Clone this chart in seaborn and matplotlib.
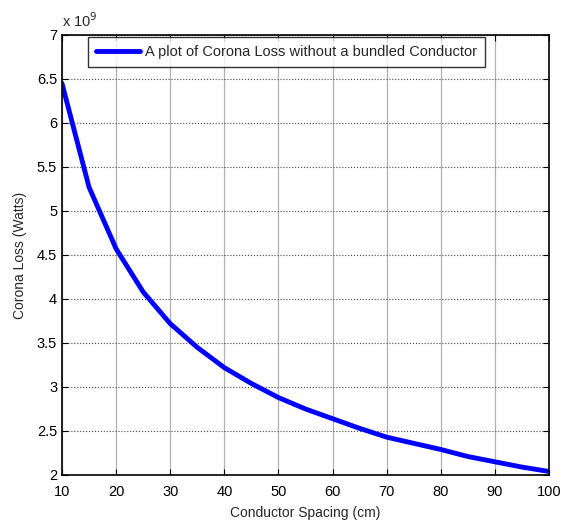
import matplotlib
matplotlib.use("Agg")
import matplotlib.pyplot as plt
import pandas as pd
import seaborn as sns

# Corona loss vs conductor spacing (in Watts)
spacing_cm = [10, 15, 20, 25, 30, 35, 40, 45, 50, 55, 60, 65, 70, 75, 80, 85, 90, 95, 100]
corona_loss = [6.45e9, 5.27e9, 4.57e9, 4.08e9, 3.72e9, 3.45e9, 3.22e9, 3.04e9, 2.88e9,
               2.75e9, 2.64e9, 2.53e9, 2.43e9, 2.36e9, 2.29e9, 2.21e9, 2.15e9, 2.09e9, 2.04e9]
series_label = "A plot of Corona Loss without a bundled Conductor"
x_ticks = [10, 20, 30, 40, 50, 60, 70, 80, 90, 100]
y_ticks = [2, 2.5, 3, 3.5, 4, 4.5, 5, 5.5, 6, 6.5, 7]

df = pd.DataFrame({"spacing": spacing_cm, "loss": [v / 1e9 for v in corona_loss]})

sns.set_theme(style="white")
plt.rcParams["font.family"] = ["Liberation Sans", "DejaVu Sans"]

fig = plt.figure(figsize=(5.68, 5.22), dpi=100)
ax = fig.add_axes([62 / 568, 47 / 522, 487 / 568, 440 / 522])

sns.lineplot(data=df, x="spacing", y="loss", ax=ax, color="#0000ff",
             linewidth=3.5, label=series_label)

ax.set_xlim(10, 100)
ax.set_ylim(2, 7)
ax.set_xticks(x_ticks)
ax.set_yticks(y_ticks)
ax.set_yticklabels([f"{t:g}" for t in y_ticks])
ax.set_xticklabels([str(t) for t in x_ticks])

# MATLAB-like grid: vertical gray, horizontal dotted
ax.xaxis.grid(True, color="#b0b0b0", linestyle="-", linewidth=0.9)
ax.yaxis.grid(True, color="#444444", linestyle=":", linewidth=0.8)
ax.set_axisbelow(True)

for s in ax.spines.values():
    s.set_color("black")
    s.set_linewidth(1.2)
ax.tick_params(direction="in", length=4, width=0.8, colors="black",
               labelsize=10.5, top=True, right=True, bottom=True, left=True,
               labeltop=False, labelright=False)
ax.tick_params(axis="x", pad=7)

ax.set_xlabel("Conductor Spacing (cm)", fontsize=10, labelpad=5)
ax.set_ylabel("Corona Loss (Watts)", fontsize=10, labelpad=7)
ax.text(0.0, 1.012, r"x 10$^{9}$", transform=ax.transAxes, fontsize=10.5,
        ha="left", va="bottom")

leg = ax.legend(loc="upper left", bbox_to_anchor=(0.053, 0.996), frameon=True,
                fancybox=False, fontsize=10.5, handlelength=3.0, borderpad=0.55,
                handletextpad=0.35, borderaxespad=0)
leg.get_frame().set_edgecolor("black")
leg.get_frame().set_linewidth(1.0)
for line in leg.get_lines():
    line.set_linewidth(3.5)

fig.savefig("out.png", dpi=100)
